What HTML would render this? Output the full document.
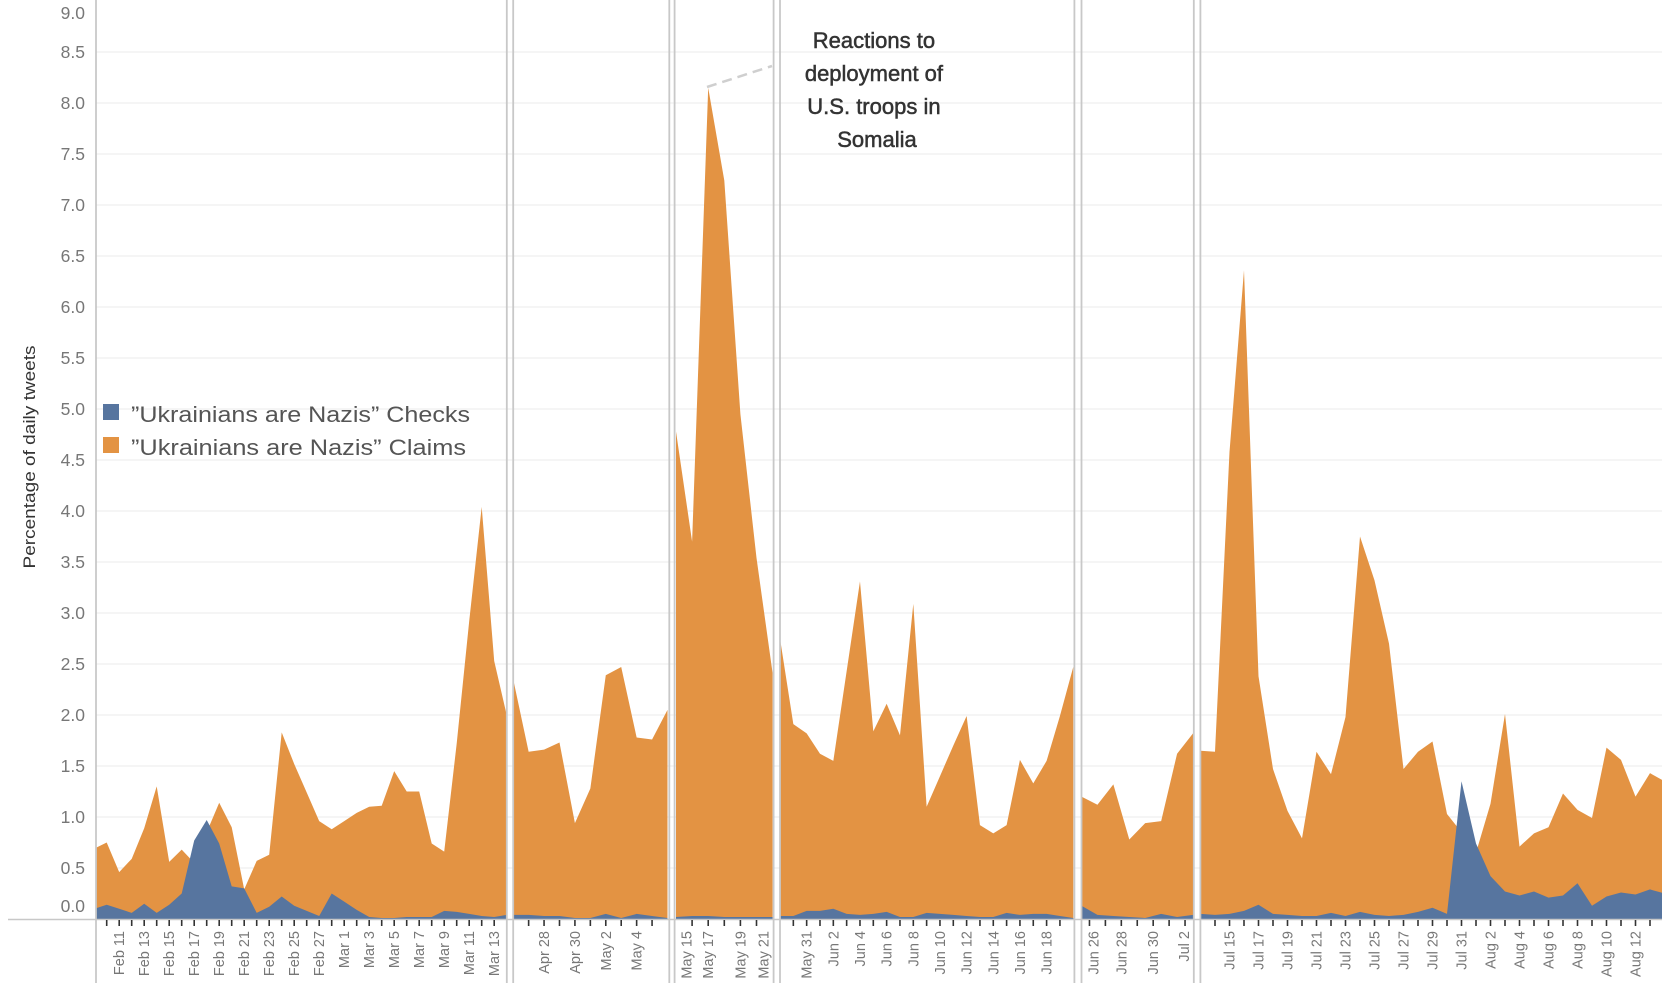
<!DOCTYPE html>
<html><head><meta charset="utf-8"><style>
html,body{margin:0;padding:0;background:#fff;}
svg{display:block;}
text{font-family:"Liberation Sans",sans-serif;}
</style></head>
<body>
<svg id="chart" width="1662" height="998" viewBox="0 0 1662 998" xmlns="http://www.w3.org/2000/svg">
<defs id="defs"></defs>
<g id="grid"></g>
<g id="areas"></g>
<g id="frame"></g>
<g id="yaxis"></g>
<g id="xaxis"></g>
<text transform="translate(35,457) rotate(-90)" text-anchor="middle" font-size="16.5" fill="#333" textLength="223" lengthAdjust="spacingAndGlyphs">Percentage of daily tweets</text>
<g>
  <g>
    <rect x="103" y="404" width="16" height="16" fill="#57759f"/>
    <text x="131" y="422" font-size="22" fill="#555" textLength="339" lengthAdjust="spacingAndGlyphs">”Ukrainians are Nazis” Checks</text>
  </g>
  <g>
    <rect x="103" y="437" width="16" height="16" fill="#e39343"/>
    <text x="131" y="455" font-size="22" fill="#555" textLength="335" lengthAdjust="spacingAndGlyphs">”Ukrainians are Nazis” Claims</text>
  </g>
</g>
<g>
  <line x1="707" y1="87" x2="772" y2="66" stroke="#cfcfcf" stroke-width="2.5" stroke-dasharray="10,6"/>
  <text x="877" text-anchor="middle" font-size="22" fill="#333" stroke="#333" stroke-width="0.5">
    <tspan x="877" y="48">Reactions to</tspan>
    <tspan x="877" y="81">deployment of</tspan>
    <tspan x="877" y="114">U.S.  troops in</tspan>
    <tspan x="877" y="147">Somalia</tspan>
  </text>
</g>
</svg>
<script>
// ---- data ----
const yTicks = [0,0.5,1,1.5,2,2.5,3,3.5,4,4.5,5,5.5,6,6.5,7,7.5,8,8.5,9];
const yTickLabels = ["0.0","0.5","1.0","1.5","2.0","2.5","3.0","3.5","4.0","4.5","5.0","5.5","6.0","6.5","7.0","7.5","8.0","8.5","9.0"];

const p1Claims = [0.69,0.75,0.46,0.59,0.89,1.30,0.56,0.68,0.55,0.85,1.14,0.90,0.29,0.57,0.63,1.83,1.52,1.24,0.96,0.88,0.96,1.04,1.10,1.11,1.45,1.25,1.25,0.74,0.66,1.72,2.92,4.04,2.53,2.00];
const p1Checks = [0.10,0.14,0.10,0.06,0.15,0.06,0.14,0.25,0.77,0.97,0.74,0.32,0.30,0.06,0.12,0.22,0.13,0.08,0.03,0.25,0.17,0.09,0.02,0.01,0.01,0.02,0.02,0.02,0.08,0.07,0.05,0.03,0.02,0.04];
const p1Labels = ["","","Feb 11","","Feb 13","","Feb 15","","Feb 17","","Feb 19","","Feb 21","","Feb 23","","Feb 25","","Feb 27","","Mar 1","","Mar 3","","Mar 5","","Mar 7","","Mar 9","","Mar 11","","Mar 13",""];

const p2Claims = [2.35,1.64,1.66,1.73,0.94,1.28,2.39,2.47,1.78,1.76,2.05];
const p2Checks = [0.04,0.04,0.03,0.03,0.01,0.01,0.05,0.01,0.05,0.03,0.01];
const p2Labels = ["","","Apr 28","","Apr 30","","May 2","","May 4","",""];

const p3Claims = [4.78,3.70,8.15,7.24,4.95,3.54,2.41];
const p3Checks = [0.02,0.03,0.03,0.02,0.02,0.02,0.02];
const p3Labels = ["May 15","","May 17","","May 19","","May 21"];

const p4Claims = [2.75,1.91,1.82,1.62,1.55,2.43,3.31,1.84,2.11,1.80,3.09,1.10,1.40,1.70,1.99,0.92,0.84,0.92,1.56,1.33,1.55,1.99,2.47];
const p4Checks = [0.03,0.03,0.08,0.08,0.10,0.05,0.04,0.05,0.07,0.02,0.02,0.06,0.05,0.04,0.03,0.02,0.02,0.06,0.04,0.05,0.05,0.03,0.01];
const p4Labels = ["","","May 31","","Jun 2","","Jun 4","","Jun 6","","Jun 8","","Jun 10","","Jun 12","","Jun 14","","Jun 16","","Jun 18","",""];

const p5Claims = [1.20,1.12,1.32,0.78,0.94,0.96,1.62,1.82];
const p5Checks = [0.13,0.04,0.03,0.02,0.01,0.05,0.02,0.04];
const p5Labels = ["Jun 26","","Jun 28","","Jun 30","","Jul 2"];

const p6Claims = [1.65,1.64,4.58,6.36,2.38,1.47,1.06,0.79,1.64,1.42,1.98,3.75,3.32,2.70,1.47,1.64,1.74,1.03,0.85,0.65,1.13,2.01,0.71,0.84,0.90,1.23,1.07,0.99,1.68,1.56,1.20,1.43,1.35];
const p6Checks = [0.05,0.04,0.05,0.08,0.14,0.05,0.04,0.03,0.03,0.06,0.03,0.07,0.04,0.03,0.04,0.07,0.11,0.05,1.35,0.74,0.42,0.27,0.23,0.27,0.21,0.23,0.35,0.13,0.22,0.26,0.24,0.29,0.25];
const p6Labels = ["","","Jul 15","","Jul 17","","Jul 19","","Jul 21","","Jul 23","","Jul 25","","Jul 27","","Jul 29","","Jul 31","","Aug 2","","Aug 4","","Aug 6","","Aug 8","","Aug 10","","Aug 12","",""];

// ---- layout ----
const NS = "http://www.w3.org/2000/svg";
const Y0 = 919, PX_PER_UNIT = 102;
function yScale(v){ return Y0 - v*PX_PER_UNIT; }
const BLUE = "#57759f", ORANGE = "#e39343";

const panes = [
  {claims:p1Claims, checks:p1Checks, labels:p1Labels, x0:94.2, dx:12.5, left:96, right:506.8, tickFrom:1, tickTo:32, tickOff:0},
  {claims:p2Claims, checks:p2Checks, labels:p2Labels, x0:513.2, dx:15.43, left:513.2, right:669.3, tickFrom:1, tickTo:9, tickOff:0},
  {claims:p3Claims, checks:p3Checks, labels:p3Labels, x0:676, dx:16.1, left:674.6, right:773.6, tickFrom:1, tickTo:5, tickOff:0},
  {claims:p4Claims, checks:p4Checks, labels:p4Labels, x0:780, dx:13.33, left:780, right:1074.4, tickFrom:1, tickTo:21, tickOff:0},
  {claims:p5Claims, checks:p5Checks, labels:p5Labels, x0:1081.5, dx:15.93, left:1081.5, right:1193.8, tickFrom:0, tickTo:6, tickOff:0.5},
  {claims:p6Claims, checks:p6Checks, labels:p6Labels, x0:1200.5, dx:14.5, left:1200.4, right:1662, tickFrom:1, tickTo:31, tickOff:0}
];

const defs = document.getElementById('defs');
const grid = document.getElementById('grid');
const areas = document.getElementById('areas');
const frame = document.getElementById('frame');
const yaxis = document.getElementById('yaxis');
const xaxis = document.getElementById('xaxis');

function mk(tag, attrs){ const e=document.createElementNS(NS,tag); for(const k in attrs) e.setAttribute(k, attrs[k]); return e; }

yTicks.forEach((v,i)=>{
  if(v>0 && v<9){
    const gl = mk('line',{x1:96,x2:1662,y1:yScale(v),y2:yScale(v),stroke:'#efefef','stroke-width':1.3});
    
    
    grid.appendChild(gl);
  }
  let yy = Math.max(13, Math.min(906, yScale(v)));
  const t = mk('text',{x:85,y:yy,'text-anchor':'end','dominant-baseline':'central','font-size':17.5,fill:'#777'});
  
  
  t.textContent = yTickLabels[i];
  yaxis.appendChild(t);
});

function areaPath(vals, p){
  let d = 'M'+p.x0+','+Y0;
  vals.forEach((v,i)=>{ d += ' L'+(p.x0+i*p.dx).toFixed(2)+','+yScale(v).toFixed(2); });
  d += ' L'+(p.x0+(vals.length-1)*p.dx).toFixed(2)+','+Y0+' Z';
  return d;
}

panes.forEach((p,pi)=>{
  const cp = mk('clipPath',{id:'clip'+pi});
  cp.appendChild(mk('rect',{x:p.left,y:0,width:p.right-p.left,height:Y0}));
  defs.appendChild(cp);
  const g = mk('g',{'clip-path':'url(#clip'+pi+')'});
  
  
  const a1 = mk('path',{d:areaPath(p.claims,p),fill:ORANGE});
  
  
  g.appendChild(a1);
  const a2 = mk('path',{d:areaPath(p.checks,p),fill:BLUE});
  
  
  g.appendChild(a2);
  areas.appendChild(g);

  for(let i=p.tickFrom;i<=p.tickTo;i++){
    const tx = p.x0 + (i+p.tickOff)*p.dx;
    const tk = mk('line',{x1:tx,x2:tx,y1:920,y2:926,stroke:'#333','stroke-width':1.6});
    
    
    xaxis.appendChild(tk);
  }
  p.labels.forEach((lab,i)=>{
    if(!lab) return;
    let lx = p.x0 + (i+p.tickOff)*p.dx;
    lx = Math.max(p.left+12, Math.min(p.right-10, lx));
    const t = mk('text',{transform:'translate('+(lx+5).toFixed(1)+',931) rotate(-90)','text-anchor':'end','font-size':14.5,fill:'#777'});
    
    
    t.textContent = lab;
    xaxis.appendChild(t);
  });
});

const ya = mk('line',{x1:96,x2:96,y1:0,y2:983,stroke:'#c8c8c8','stroke-width':1.8});


frame.appendChild(ya);
const bl = mk('line',{x1:8,x2:1662,y1:919.5,y2:919.5,stroke:'#c8c8c8','stroke-width':1.5});


frame.appendChild(bl);
panes.forEach((p,pi)=>{
  const xs = [];
  if(pi>0) xs.push(p.left);
  if(pi<panes.length-1) xs.push(p.right);
  xs.forEach(x=>{
    const s = mk('line',{x1:x,x2:x,y1:0,y2:983,stroke:'#c8c8c8','stroke-width':1.8});
    
    
    frame.appendChild(s);
  });
});
</script>
</body></html>
